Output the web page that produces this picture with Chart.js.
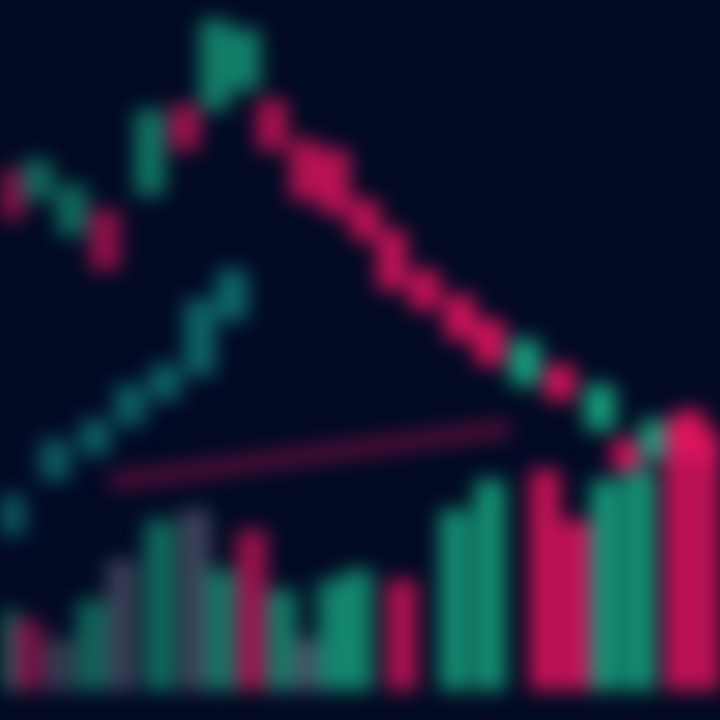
<!DOCTYPE html>
<html>
<head>
<meta charset="utf-8">
<script src="https://cdn.jsdelivr.net/npm/chart.js@4.4.1/dist/chart.umd.min.js"></script>
<style>
  html, body { margin: 0; padding: 0; background: #020a24; }
  #wrap { width: 720px; height: 720px; overflow: hidden; background: #020a24; }
  #chart { filter: blur(10px); }
</style>
</head>
<body>
<div id="wrap"><canvas id="chart" width="720" height="720"></canvas></div>
<script>
// upper candle series (time position, open, close)
const upperTime  = [10, 38, 72, 105, 150, 185, 215, 245, 272, 305, 335, 365, 392, 425, 460, 490, 525, 560, 600, 627, 655, 690, 716];
const upperOpen  = [550, 520, 485, 510, 525, 615, 610, 630, 620, 580, 570, 520, 490, 450, 425, 400, 335, 355, 290, 280, 260, 310, 290];
const upperClose = [500, 560, 535, 450, 610, 570, 700, 690, 570, 520, 505, 480, 430, 410, 380, 355, 380, 320, 335, 250, 300, 265, 255];

// lower rising series
const lowerTime  = [10, 55, 95, 130, 165, 200, 232];
const lowerOpen  = [185, 240, 265, 295, 320, 345, 400];
const lowerClose = [225, 280, 300, 335, 355, 420, 450];

// support line
const lineTime  = [110, 510];
const lineValue = [238, 292];

// volume bars (1 = up, 0 = down, 2 = flat)
const volTime  = [5, 28, 60, 92, 122, 160, 195, 222, 252, 282, 308, 333, 358, 402, 455, 490, 545, 577, 606, 640, 680, 712];
const volTop   = [110, 100, 80, 120, 160, 200, 210, 150, 190, 130, 80, 140, 150, 140, 210, 240, 250, 200, 240, 250, 300, 270];
const volUp    = [1, 0, 2, 1, 2, 1, 2, 1, 0, 1, 2, 1, 1, 0, 1, 1, 0, 0, 1, 1, 0, 0];
const volBase = 30;

const UP = [25, 170, 130];
const DOWN = [230, 20, 95];
const FLAT = [95, 100, 120];

// colours fade towards the left edge, like the reference
function rgba(c, x, lo, hi) {
  const a = lo + (hi - lo) * Math.min(1, x / 500);
  return `rgba(${c[0]}, ${c[1]}, ${c[2]}, ${a.toFixed(2)})`;
}

function candles(times, open, close) {
  return times.map((t, i) => ({ x: t, y: [Math.min(open[i], close[i]), Math.max(open[i], close[i])] }));
}

new Chart(document.getElementById("chart").getContext("2d"), {
  type: "bar",
  data: {
    datasets: [
      {
        data: volTime.map((t, i) => ({ x: t, y: [volBase, volTop[i]] })),
        backgroundColor: volTime.map((t, i) => rgba([DOWN, UP, FLAT][volUp[i]], t, 0.5, 0.85)),
        barThickness: 30,
        grouped: false
      },
      {
        data: candles(lowerTime, lowerOpen, lowerClose),
        backgroundColor: lowerTime.map(t => rgba([20, 150, 140], t, 0.55, 0.8)),
        barThickness: 30,
        grouped: false
      },
      {
        data: candles(upperTime, upperOpen, upperClose),
        backgroundColor: upperTime.map((t, i) => rgba(upperClose[i] >= upperOpen[i] ? UP : DOWN, t, 0.55, 0.92)),
        barThickness: 30,
        grouped: false
      },
      {
        type: "line",
        data: lineTime.map((t, i) => ({ x: t, y: lineValue[i] })),
        borderColor: "rgba(120, 15, 65, 0.75)",
        borderWidth: 16,
        pointRadius: 0
      }
    ]
  },
  options: {
    responsive: false,
    animation: false,
    layout: { padding: 0 },
    scales: {
      x: { type: "linear", min: 0, max: 720, offset: false, display: false },
      y: { min: 0, max: 720, display: false }
    },
    plugins: {
      legend: { display: false },
      tooltip: { enabled: false }
    }
  }
});
</script>
</body>
</html>
